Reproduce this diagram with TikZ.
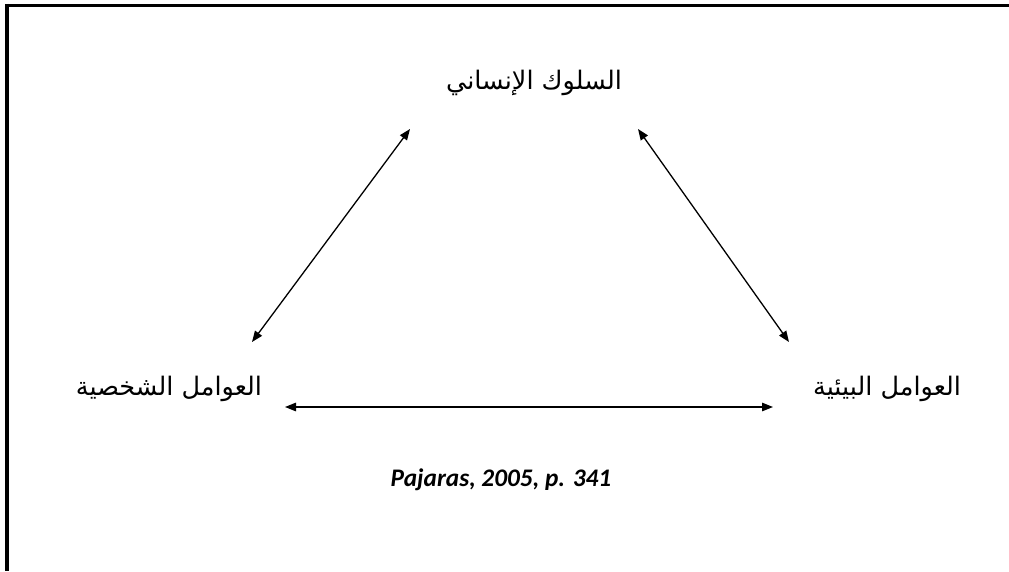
\documentclass[tikz,border=0pt]{standalone}
\usepackage{fontspec}
\usetikzlibrary{arrows.meta}
\TeXXeTstate=1
\newfontfamily\arabicfont[Script=Arabic]{DejaVu Sans}
\newfontfamily\citefont{Carlito}
\tikzset{
  lbl/.style={inner sep=0pt, font=\arabicfont\fontsize{25.5}{30}\selectfont},
  cite/.style={inner sep=0pt, font=\citefont\bfseries\itshape\fontsize{25.3}{30}\selectfont},
  link/.style={line width=1.3pt, {Triangle[length=11pt,width=8.5pt]}-{Triangle[length=11pt,width=8.5pt]}},
  frame/.style={line width=3.5pt}
}
\begin{document}
\begin{tikzpicture}[x=1pt,y=-1pt]
\fill[white] (0,0) rectangle (1009,571);
\useasboundingbox (0,0) rectangle (1009,571);
\draw[frame] (5.25,5.5) -- (1009,5.5);
\draw[frame] (7,3.75) -- (7,571);
\node[lbl] (top) at (534,83) {\beginR السلوك الإنساني\endR};
\node[lbl] (left) at (169,389) {\beginR العوامل الشخصية\endR};
\node[lbl] (right) at (887,389) {\beginR العوامل البيئية\endR};
\node[cite] (src) at (501,480) {Pajaras, 2005, p. 341};
\coordinate (tl) at (410,129);
\coordinate (lt) at (252,342);
\coordinate (tr) at (638,129);
\coordinate (rt) at (789,342);
\coordinate (lr) at (285,407);
\coordinate (rl) at (773,407);
\draw[link] (tl) -- (lt);
\draw[link] (tr) -- (rt);
\draw[link] (lr) -- (rl);
\end{tikzpicture}
\end{document}
